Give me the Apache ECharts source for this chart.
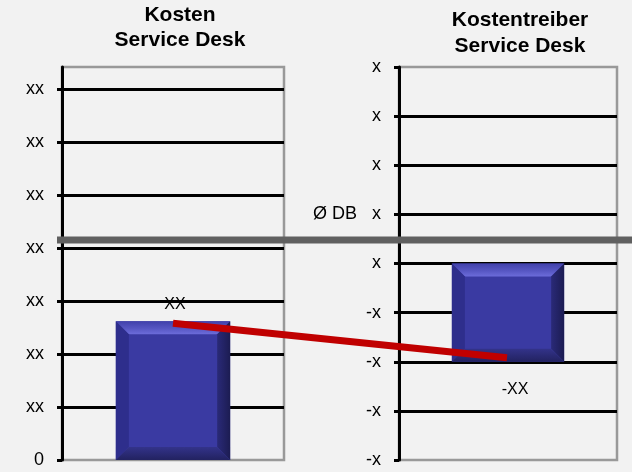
<!DOCTYPE html>
<html>
<head>
<meta charset="utf-8">
<script src="https://cdn.jsdelivr.net/npm/echarts@6/dist/echarts.min.js"></script>
<style>
html,body{margin:0;padding:0;background:#f2f2f2;}
#chart{width:632px;height:472px;}
</style>
</head>
<body>
<div id="chart"></div>
<script>
// ---- data ----
const costCategories = ['Kosten'];
const driverCategories = ['Kostentreiber'];
const costTickLabels = ['0', 'xx', 'xx', 'xx', 'xx', 'xx', 'xx', 'xx'];
const driverTickLabels = ['-x', '-x', '-x', '-x', 'x', 'Ø DB   x', 'x', 'x', 'x'];
const costBar = [[0, 0, 2.62]];      // [category, from, to]
const driverBar = [[0, 2, 4]];       // [category, from, to]
const costBarLabels = ['XX'];
const driverBarLabels = ['-XX'];
const trendCategories = ['Kosten', 'Kostentreiber'];
const trendValues = [2.58, 1.93];    // on cost scale
const dbCategories = ['start', 'end'];
const dbValues = [4.15, 4.15];       // Ø DB level on cost scale
const costMax = 7.415;
const driverMax = 8;

const FONT = "'Liberation Sans', Arial, sans-serif";

function bevelBar(labels, labelPos, labelDx) {
  return function (params, api) {
    const x = api.value(0), lo = api.value(1), hi = api.value(2);
    const pTop = api.coord([x, hi]);
    const pBot = api.coord([x, lo]);
    const w = api.size([1, 0])[0] * 0.515;
    const l = pTop[0] - w / 2, r = pTop[0] + w / 2, t = pTop[1], b = pBot[1];
    const e = 13;
    const lbl = labels[params.dataIndex];
    const ty = labelPos === 'top' ? t - 17 : b + 28;
    return {
      type: 'group',
      children: [
        { type: 'rect', shape: { x: l, y: t, width: w, height: b - t }, style: { fill: '#3a3aa2' } },
        { type: 'polygon', shape: { points: [[l, t], [r, t], [r - e, t + e], [l + e, t + e]] },
          style: { fill: new echarts.graphic.LinearGradient(0, 0, 0, 1, [
            { offset: 0, color: '#4040aa' }, { offset: 0.55, color: '#5656c2' }, { offset: 1, color: '#6c6cda' }]) } },
        { type: 'polygon', shape: { points: [[l, t], [l + e, t + e], [l + e, b - e], [l, b]] },
          style: { fill: '#2e2e8c' } },
        { type: 'polygon', shape: { points: [[r, t], [r, b], [r - e, b - e], [r - e, t + e]] },
          style: { fill: new echarts.graphic.LinearGradient(0, 0, 1, 0, [
            { offset: 0, color: '#2a2a78' }, { offset: 1, color: '#1c1c52' }]) } },
        { type: 'polygon', shape: { points: [[l, b], [l + e, b - e], [r - e, b - e], [r, b]] },
          style: { fill: new echarts.graphic.LinearGradient(0, 0, 0, 1, [
            { offset: 0, color: '#33338a' }, { offset: 1, color: '#222260' }]) } },
        { type: 'text', style: { text: lbl, x: pTop[0] + labelDx, y: ty, align: 'center', verticalAlign: 'middle',
          fill: '#000', fontSize: 16, fontFamily: FONT } }
      ]
    };
  };
}

const valueAxisBase = {
  type: 'value',
  min: 0,
  interval: 1,
  axisLine: { show: true, lineStyle: { color: '#000', width: 3 } },
  axisTick: { show: true, length: 5, lineStyle: { color: '#000', width: 3 } },
  splitLine: { show: true, showMinLine: false, showMaxLine: false, lineStyle: { color: '#000', width: 3 } }
};

const chart = echarts.init(document.getElementById('chart'), null, { renderer: 'canvas' });
chart.setOption({
  backgroundColor: '#f2f2f2',
  animation: false,
  title: [
    { text: 'Kosten\nService Desk', left: 180, top: 3, textAlign: 'center', padding: 0,
      textStyle: { fontSize: 21, fontWeight: 'bold', fontFamily: FONT, color: '#000', lineHeight: 25 } },
    { text: 'Kostentreiber\nService Desk', left: 520, top: 7, textAlign: 'center', padding: 0,
      textStyle: { fontSize: 21, fontWeight: 'bold', fontFamily: FONT, color: '#000', lineHeight: 26 } }
  ],
  grid: [
    { left: 62, top: 67, width: 222, height: 393, show: true, borderColor: '#999', borderWidth: 2.5, backgroundColor: 'transparent' },
    { left: 399, top: 67, width: 218, height: 393, show: true, borderColor: '#999', borderWidth: 2.5, backgroundColor: 'transparent' },
    { left: 173, top: 67, width: 334, height: 393 },
    { left: 57, top: 67, right: 0, height: 393 }
  ],
  xAxis: [
    { gridIndex: 0, type: 'category', data: costCategories, show: false },
    { gridIndex: 1, type: 'category', data: driverCategories, show: false },
    { gridIndex: 2, type: 'category', data: trendCategories, boundaryGap: false, show: false },
    { gridIndex: 3, type: 'category', data: dbCategories, boundaryGap: false, show: false }
  ],
  yAxis: [
    Object.assign({}, valueAxisBase, {
      gridIndex: 0, max: costMax,
      axisLabel: { margin: 18, color: '#000', fontSize: 18, fontFamily: FONT, padding: [10, 0, 0, 0],
        showMaxLabel: false, formatter: v => (Number.isInteger(v) ? (costTickLabels[v] || '') : '') }
    }),
    Object.assign({}, valueAxisBase, {
      gridIndex: 1, max: driverMax,
      axisLabel: { margin: 18, color: '#000', fontSize: 18, fontFamily: FONT, padding: [10, 0, 0, 0],
        formatter: v => (Number.isInteger(v) ? (driverTickLabels[v] || '') : '') }
    }),
    { gridIndex: 2, type: 'value', min: 0, max: costMax, show: false, splitLine: { show: false } },
    { gridIndex: 3, type: 'value', min: 0, max: costMax, show: false, splitLine: { show: false } }
  ],
  series: [
    { type: 'custom', xAxisIndex: 0, yAxisIndex: 0, data: costBar, encode: { x: 0, y: [1, 2] },
      renderItem: bevelBar(costBarLabels, 'top', 2), z: 3 },
    { type: 'custom', xAxisIndex: 1, yAxisIndex: 1, data: driverBar, encode: { x: 0, y: [1, 2] },
      renderItem: bevelBar(driverBarLabels, 'bottom', 7), z: 3 },
    { type: 'line', xAxisIndex: 3, yAxisIndex: 3, data: dbValues, symbol: 'none', z: 4,
      lineStyle: { color: '#606060', width: 7, cap: 'butt' } },
    { type: 'line', xAxisIndex: 2, yAxisIndex: 2, data: trendValues, symbol: 'none', z: 5,
      lineStyle: { color: '#c00000', width: 7, cap: 'butt' } }
  ]
});
</script>
</body>
</html>
